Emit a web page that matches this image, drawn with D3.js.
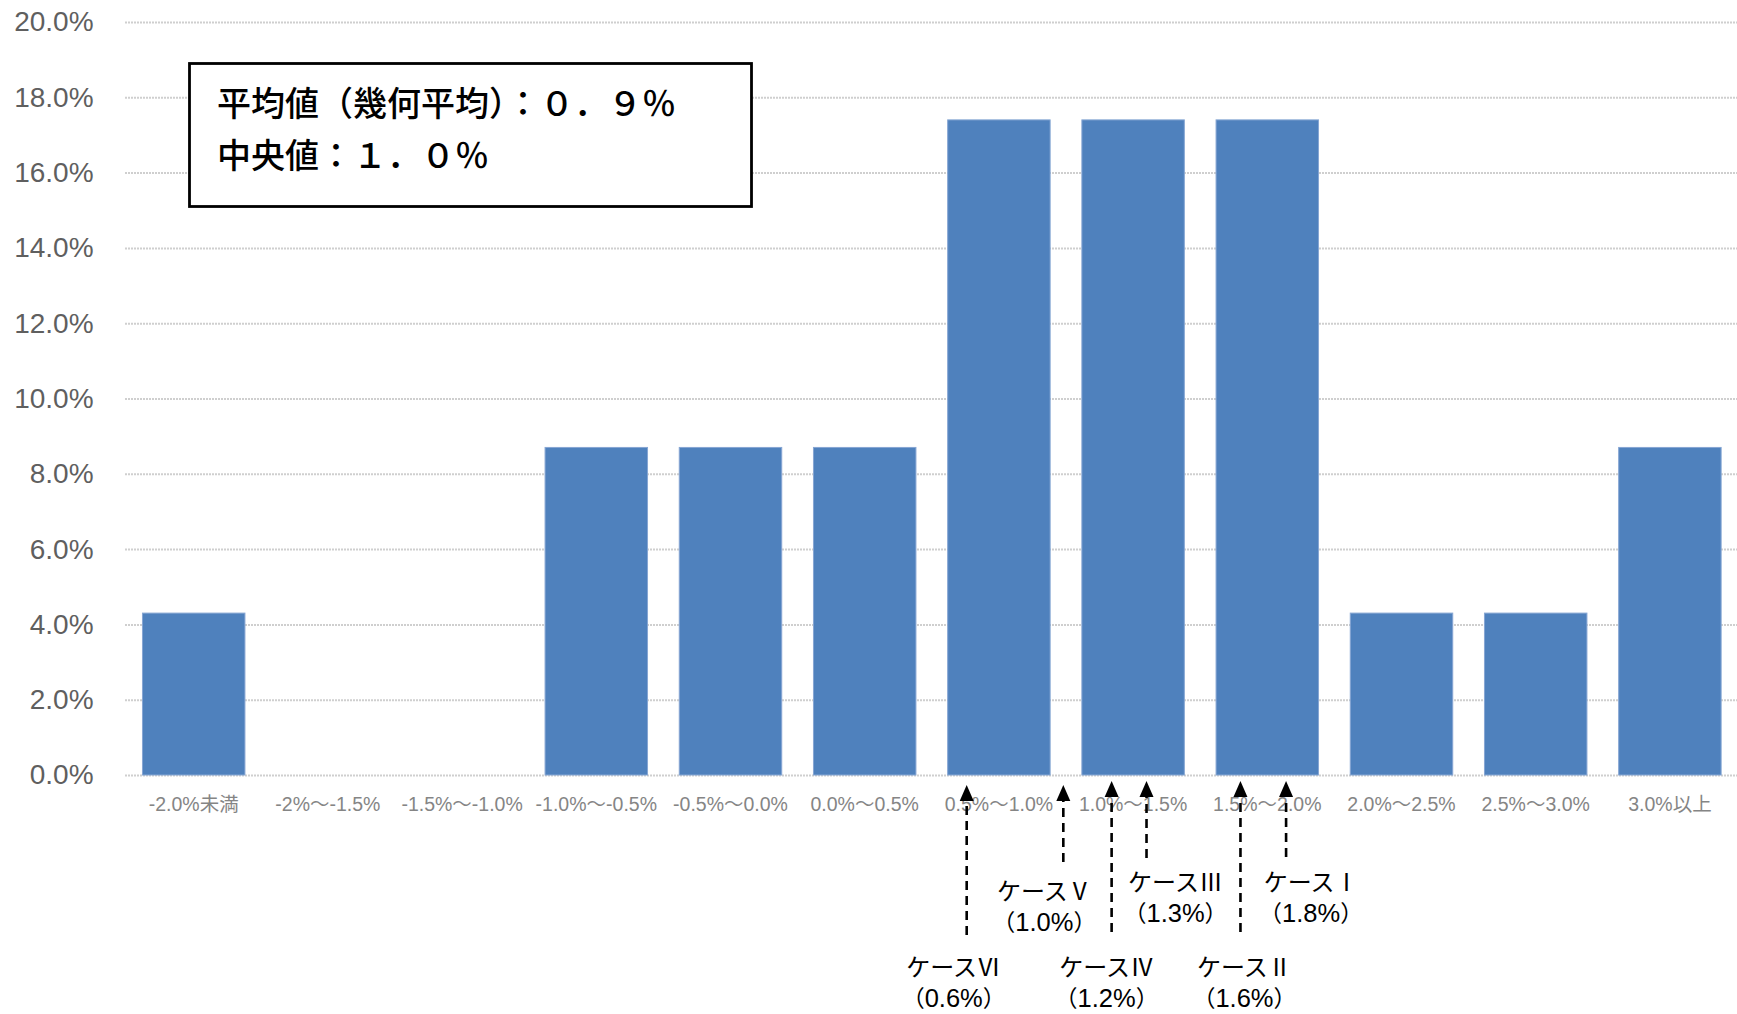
<!DOCTYPE html>
<html>
<head>
<meta charset="utf-8">
<script src="https://cdn.jsdelivr.net/npm/d3@7"></script>
<style>
  html, body { margin: 0; padding: 0; background: #ffffff; }
  svg { display: block; }
</style>
</head>
<body>
<svg id="chart" width="1737" height="1014"></svg>
<script>
// ---------- data ----------
const categories = ["-2.0%未満", "-2%〜-1.5%", "-1.5%〜-1.0%", "-1.0%〜-0.5%", "-0.5%〜0.0%", "0.0%〜0.5%",
                    "0.5%〜1.0%", "1.0%〜1.5%", "1.5%〜2.0%", "2.0%〜2.5%", "2.5%〜3.0%", "3.0%以上"];
const shares = [4.3, 0, 0, 8.7, 8.7, 8.7, 17.4, 17.4, 17.4, 4.3, 4.3, 8.7];
const yTicks = [0, 2, 4, 6, 8, 10, 12, 14, 16, 18, 20];
const binEdges = [-2.5, 3.5];               // histogram bins span -2.5 .. 3.5 in 0.5 steps
const summaryLines = ["平均値（幾何平均）：０．９％", "中央値：１．０％"];
const caseNames = ["ケースⅠ", "ケースⅡ", "ケースⅢ", "ケースⅣ", "ケースⅤ", "ケースⅥ"];
const caseRates = ["1.8%", "1.6%", "1.3%", "1.2%", "1.0%", "0.6%"];
const casePointAt = [1.82, 1.65, 1.30, 1.17, 0.99, 0.63]; // where each arrow points on the axis

// ---------- layout ----------
const svg = d3.select("#chart");
const pLeft = 126.6, pRight = 1737, pTop = 22, pBottom = 775;

const x = d3.scaleBand().domain(categories).range([pLeft, pRight]).paddingInner(0.2365).paddingOuter(0.2365 / 2);
const xv = d3.scaleLinear().domain(binEdges).range([pLeft, pRight]);
const y = d3.scaleLinear().domain([0, 20]).range([pBottom, pTop]);

// gridlines
const grid = svg.append("g").attr("transform", `translate(${pLeft - 1.6},0)`)
  .call(d3.axisRight(y).tickValues(yTicks).tickSize(pRight - pLeft + 2).tickFormat(""));
grid.select(".domain").remove();
grid.selectAll("line").attr("stroke", "#cfcfcf").attr("stroke-width", 2).attr("stroke-dasharray", "2,1");

// y axis labels
const yAxis = svg.append("g").attr("transform", `translate(${pLeft},0)`)
  .call(d3.axisLeft(y).tickValues(yTicks).tickSize(0).tickPadding(33).tickFormat(d => d.toFixed(1) + "%"));
yAxis.select(".domain").remove();
yAxis.selectAll("text").attr("font-family", "'Liberation Sans', Arial, sans-serif")
  .attr("font-size", 28).attr("fill", "#5f5f5f");

// bars
svg.append("g").selectAll("rect").data(categories).join("rect")
  .attr("x", d => x(d))
  .attr("width", x.bandwidth())
  .attr("y", (d, i) => y(shares[i]))
  .attr("height", (d, i) => y(0) - y(shares[i]))
  .attr("fill", "#4f81bd")
  .attr("stroke", "#86a6d3").attr("stroke-width", 1)
  .attr("display", (d, i) => shares[i] > 0 ? null : "none");

// x axis labels
const xAxis = svg.append("g").attr("transform", `translate(0,${pBottom})`)
  .call(d3.axisBottom(x).tickSize(0).tickPadding(22));
xAxis.select(".domain").remove();
xAxis.selectAll("text").attr("font-family", "'Liberation Sans', Arial, 'Noto Sans CJK JP', sans-serif")
  .attr("font-size", 19.5).attr("fill", "#858585");

// summary box
const box = svg.append("g");
box.append("rect").attr("x", 189.5).attr("y", 63.5).attr("width", 562).attr("height", 143)
  .attr("fill", "#ffffff").attr("stroke", "#000000").attr("stroke-width", 2.8);
box.selectAll("text").data(summaryLines).join("text")
  .attr("x", 217)
  .attr("y", (d, i) => 116 + i * 52)
  .attr("font-family", "'Noto Sans CJK JP', sans-serif")
  .attr("font-size", 34)
  .attr("font-weight", 500)
  .attr("fill", "#000000")
  .text(d => d);

// case annotations (label placement per case)
const caseLayout = [
  { dx: 25, ty: 882, lineEnd: 857, tip: 781 },
  { dx: 4, ty: 967, lineEnd: 932, tip: 781 },
  { dx: 29, ty: 882, lineEnd: 858, tip: 781 },
  { dx: -5, ty: 967, lineEnd: 932, tip: 781 },
  { dx: -19, ty: 891, lineEnd: 862, tip: 785 },
  { dx: -13, ty: 967, lineEnd: 935, tip: 785 }
];
const ann = svg.append("g").selectAll("g").data(caseNames).join("g");
ann.append("line")
  .attr("x1", (d, i) => xv(casePointAt[i])).attr("x2", (d, i) => xv(casePointAt[i]))
  .attr("y1", (d, i) => caseLayout[i].lineEnd).attr("y2", (d, i) => caseLayout[i].tip + 12)
  .attr("stroke", "#000").attr("stroke-width", 2.6).attr("stroke-dasharray", "9,6");
ann.append("path")
  .attr("d", (d, i) => {
    const px = xv(casePointAt[i]), t = caseLayout[i].tip;
    return `M${px},${t} L${px - 7},${t + 16} L${px + 7},${t + 16} Z`;
  })
  .attr("fill", "#000");
ann.append("text")
  .attr("x", (d, i) => xv(casePointAt[i]) + caseLayout[i].dx)
  .attr("y", (d, i) => caseLayout[i].ty)
  .attr("dy", "0.36em")
  .attr("text-anchor", "middle")
  .attr("font-family", "'Noto Sans CJK JP', sans-serif")
  .attr("font-size", 24)
  .attr("fill", "#000")
  .text(d => d);
const rateText = ann.append("text")
  .attr("x", (d, i) => xv(casePointAt[i]) + caseLayout[i].dx)
  .attr("y", (d, i) => caseLayout[i].ty + 32)
  .attr("dy", "0.36em")
  .attr("text-anchor", "middle")
  .attr("font-size", 23)
  .attr("fill", "#000");
rateText.append("tspan").attr("font-family", "'Noto Sans CJK JP', sans-serif").text("（");
rateText.append("tspan").attr("font-family", "'Liberation Sans', Arial, sans-serif").attr("font-size", 25.5)
  .text((d, i) => caseRates[i]);
rateText.append("tspan").attr("font-family", "'Noto Sans CJK JP', sans-serif").text("）");
</script>
</body>
</html>
